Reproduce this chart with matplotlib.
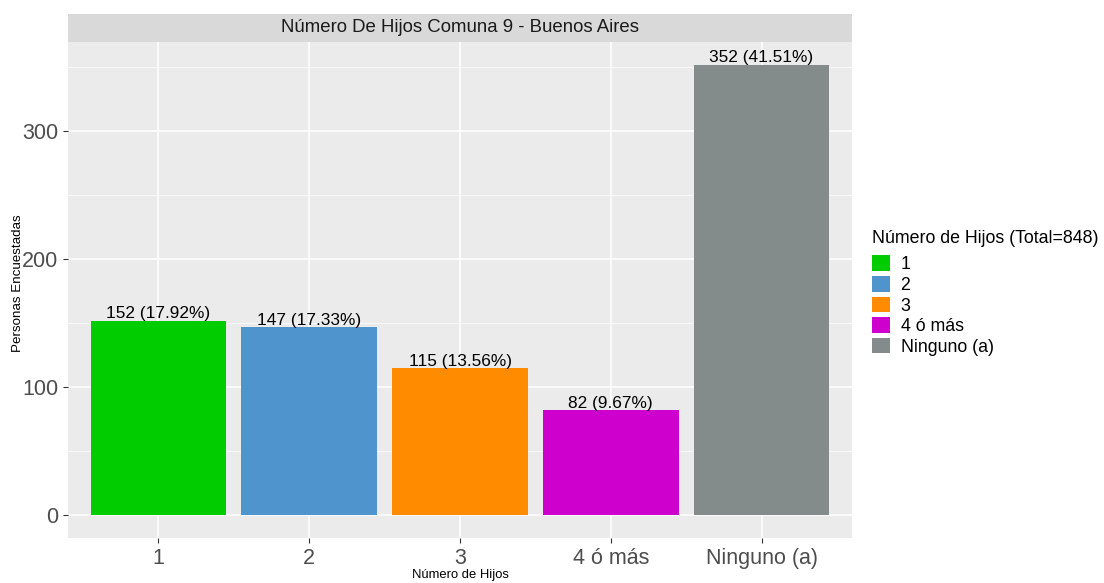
import matplotlib
matplotlib.use("Agg")
import matplotlib.pyplot as plt
from matplotlib.patches import Patch, Rectangle
from matplotlib.ticker import MultipleLocator

categories = ["1", "2", "3", "4 ó más", "Ninguno (a)"]
counts = [152, 147, 115, 82, 352]
percents = [17.92, 17.33, 13.56, 9.67, 41.51]
colors = ["#00CC00", "#4F94CD", "#FF8C00", "#CD00CD", "#838B8B"]
total = 848

plt.rcParams['font.family'] = ['Liberation Sans', 'DejaVu Sans']

W, H = 1104, 583
fig = plt.figure(figsize=(W / 100, H / 100), dpi=100)
px_l, px_r, px_t, px_b = 68, 852, 42, 538
ax = fig.add_axes([px_l / W, 1 - px_b / H, (px_r - px_l) / W, (px_b - px_t) / H])
ax.set_facecolor("#EBEBEB")

x = list(range(1, len(categories) + 1))
ax.bar(x, counts, width=0.9, color=colors, zorder=3)
for xi, c, p in zip(x, counts, percents):
    ax.text(xi, c - 0.3, f"{c} ({p:.2f}%)", ha="center", va="bottom", fontsize=12.4, color="black", zorder=4)

ax.set_xlim(0.4, 5.6)
ymax = max(counts)
ax.set_ylim(-0.05 * ymax, 1.05 * ymax)
ax.set_xticks(x)
ax.set_xticklabels(categories, fontsize=15.5, color="#4D4D4D")
ax.yaxis.set_major_locator(MultipleLocator(100))
ax.yaxis.set_minor_locator(MultipleLocator(50))
ax.tick_params(axis="y", labelsize=15.5, labelcolor="#4D4D4D", length=3.5, color="#333333", width=0.8)
ax.tick_params(axis="x", length=3.5, color="#333333", width=0.8, pad=4)
ax.tick_params(axis="y", which="minor", length=0)
ax.grid(which="major", color="white", linewidth=1.1, zorder=0)
ax.grid(which="minor", axis="y", color="white", linewidth=0.5, zorder=0)
ax.set_axisbelow(True)
for s in ax.spines.values():
    s.set_visible(False)

# strip
strip_top = 14
fig.patches.append(Rectangle((px_l / W, 1 - px_t / H), (px_r - px_l) / W, (px_t - strip_top) / H,
                             transform=fig.transFigure, facecolor="#D9D9D9", edgecolor="none", zorder=0))
fig.text((px_l + px_r) / 2 / W, 1 - (px_t + strip_top) / 2 / H, "Número De Hijos Comuna 9 - Buenos Aires",
         ha="center", va="center", fontsize=13.4, color="#1A1A1A")

fig.text(18 / W, 1 - 283 / H, "Personas Encuestadas", rotation=90, ha="center", va="center", fontsize=9.6)
fig.text((px_l + px_r) / 2 / W, 1 - 575 / H, "Número de Hijos", ha="center", va="center", fontsize=9.4)

handles = [Patch(facecolor=c, edgecolor="none") for c in colors]
leg = fig.legend(handles, categories, title=f"Número de Hijos (Total={total})",
                 loc="upper left", bbox_to_anchor=(865 / W, 1 - 223 / H), frameon=False,
                 fontsize=12.8, title_fontsize=12.8, handlelength=1.0, handleheight=1.0,
                 labelspacing=0.14, handletextpad=0.6, alignment="left", borderaxespad=0)
leg._legend_box.sep = 6

fig.savefig("out.png", dpi=100)
